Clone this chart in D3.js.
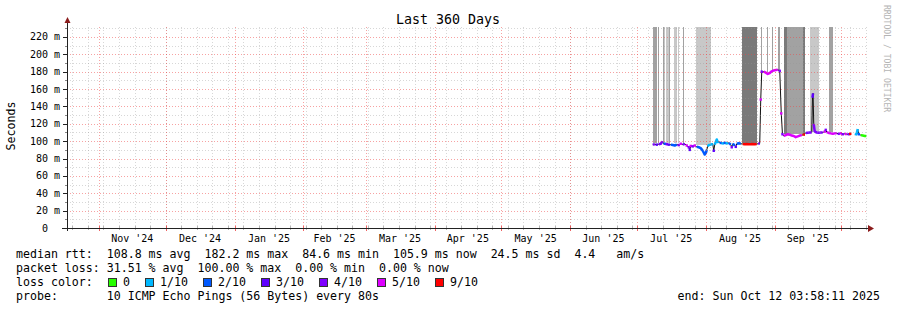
<!DOCTYPE html>
<html><head><meta charset="utf-8">
<script src="https://cdn.jsdelivr.net/npm/d3@7"></script>
<style>
body{margin:0;background:#fff}
svg{display:block}
text{font-family:"DejaVu Sans Mono","Liberation Mono",monospace;white-space:pre}
</style>
</head><body>
<svg id="c" width="897" height="310"></svg>
<script>
// ---------- data ----------
const chartTitle = "Last 360 Days";
const yAxisTitle = "Seconds";
const watermark = "RRDTOOL / TOBI OETIKER";
const endParts = [2025, 9, 12, 3, 58, 11];   // Sun Oct 12 03:58:11 2025
const spanDays = 360;
const yMax = 231.5;
const yMajorTicks = [0, 20, 40, 60, 80, 100, 120, 140, 160, 180, 200, 220];
const yMinorTicks = [10, 30, 50, 70, 90, 110, 130, 150, 170, 190, 210, 230];
const monthLabels = ["Nov '24", "Dec '24", "Jan '25", "Feb '25", "Mar '25", "Apr '25",
                     "May '25", "Jun '25", "Jul '25", "Aug '25", "Sep '25"];

// median RTT samples; time = days since 2025-07-01 00:00
const sampleDays = [7.2,8.1,9.0,9.9,10.8,11.25,11.7,12.6,13.5,14.4,15.3,16.2,17.1,18.0,18.9,19.8,20.7,21.6,22.5,23.4,23.85,24.3,25.2,26.1,27.0,27.9,28.8,29.7,30.6,31.05,31.5,31.95,32.4,33.3,34.2,34.65,35.1,36.0,36.45,36.9,37.8,38.7,39.6,40.5,41.4,42.3,42.75,43.2,44.1,44.55,45.0,45.9,46.8,47.7,48.6,49.5,50.4,51.3,52.2,53.1,54.0,54.68,55.35,55.8,56.25,57.15,58.05,58.95,59.85,60.75,61.65,62.55,63.45,64.35,65.03,65.57,66.15,67.05,67.95,68.85,69.75,70.65,71.55,72.45,73.35,74.25,75.15,76.05,76.95,77.85,78.75,79.07,79.34,79.65,80.1,81.0,81.9,82.8,83.7,84.6,85.05,85.5,86.4,87.3,88.2,89.1,90.0,90.9,91.8,92.7,93.6,94.5,95.4,96.08,96.75,97.65,98.33,99.0,99.45,99.9,100.8,101.7,102.6,103.28];
const medianMs = [96,96.5,96,96.5,97,99,98,97,96.5,96,96,95.5,95,96,95.5,97,96,97,95,93,90,94.5,94,95,93.5,93,92,89,84.6,86,90,94,95.5,96,97,89,96,102,99,99.5,98,97.5,98,97.5,98,96,93,97,95,93.5,97,97.5,97,96.8,96.5,96.8,96.5,96.5,96.8,96.5,96.8,97,97.5,148,180,180,179,177.5,178.5,180.5,181.5,182,182.2,181,132,108,106,107,108,107.5,106.5,106,104.6,105.5,106.5,107,107.5,109.5,109.8,110,110,150,155,120,111,110,109.8,110,110,111,113,110.5,109.5,109,108.5,109,109,108.5,109,108,108.5,108,108,108.5,null,null,107,109,114,108,107,106.5,106,105.9];
const lossLevel = [4,4,3,4,4,4,4,2,4,3,2,2,2,2,4,5,4,4,5,4,3,5,4,5,2,2,2,2,2,2,2,1,1,1,1,3,1,1,1,1,2,1,2,1,2,2,4,2,2,3,2,2,2,6,6,6,6,6,6,6,6,4,4,5,4,5,5,5,5,5,5,5,5,4,5,4,5,5,5,5,5,5,5,5,5,5,6,4,4,4,4,3,3,4,4,4,4,4,4,5,4,5,5,5,5,5,5,4,5,4,5,5,4,6,null,null,1,1,1,2,0,0,0,0];

const lossColors = ["#26ff00", "#00b8ff", "#0059ff", "#5e00ff", "#7e00ff", "#dd00ff", "#ff0000"];
const lossLabels = ["0", "1/10", "2/10", "3/10", "4/10", "5/10", "9/10"];

// smoke (ping spread) bands reaching off the top of the chart
const smokeStart = [7.2,9.45,11.7,12.3,13.05,14.5,16.65,18.45,21.0,26.55,47.5,55.8,58.4,60.75,63.75,66.15,67.7,74.8,77.85,86.5];
const smokeEnd   = [9.0,10.2,12.3,12.8,14.3,15.0,18.0,19.05,21.45,33.3,54.3,56.25,58.8,61.35,64.35,67.7,74.8,75.7,82.0,88.5];
const smokeShade = [1,1,1,0,0,1,0,0,1,0,2,1,1,1,1,2,1,2,0,1];
const smokeBase  = [98,98,98,98,98,98,98,98,98,96,98,180,180,182,182,108,108,108,111,111];
const smokeColors = ["#c8c8c8", "#a2a2a2", "#7a7a7a"];

const statLines = [
  "median rtt:  108.8 ms avg  182.2 ms max  84.6 ms min  105.9 ms now  24.5 ms sd  4.4   am/s",
  "packet loss: 31.51 % avg  100.00 % max  0.00 % min  0.00 % now",
  "loss color:",
  "probe:       10 ICMP Echo Pings (56 Bytes) every 80s"
];
const endLabel = "end: Sun Oct 12 03:58:11 2025";

// ---------- chart ----------
const svg = d3.select("#c");
const L = 66, R = 866, T = 27, B = 228;
const endTime = new Date(...endParts);
const startTime = d3.timeDay.offset(endTime, -spanDays);
const base = new Date(2025, 6, 1);
const toDate = d => new Date(base.getTime() + d * 86400000);

const x = d3.scaleTime().domain([startTime, endTime]).range([L, R]);
const y = d3.scaleLinear().domain([0, yMax]).range([B, T]);
const px = v => Math.round(v) + 0.5;

svg.append("rect").attr("width", 897).attr("height", 310).attr("fill", "#fff");

// smoke
const g = svg.append("g");
smokeStart.forEach((s, i) => {
  const x0 = x(toDate(s)), x1 = x(toDate(smokeEnd[i]));
  g.append("rect")
    .attr("x", x0).attr("width", Math.max(1, x1 - x0))
    .attr("y", T).attr("height", y(smokeBase[i]) - T)
    .attr("fill", smokeColors[smokeShade[i]])
    .attr("shape-rendering", "crispEdges");
});

// median (black thin line underneath)
const pts = sampleDays.map((d, i) => ({t: toDate(d), v: medianMs[i], l: lossLevel[i]}));
const line = d3.line().defined(p => p.v != null).x(p => x(p.t)).y(p => y(p.v));
svg.append("path").attr("d", line(pts)).attr("fill", "none")
  .attr("stroke", "#111").attr("stroke-width", 1);

// colored runs by loss level
let runs = [], cur = null;
pts.forEach(p => {
  if (p.v == null) { cur = null; return; }
  if (cur && cur.l === p.l) cur.pts.push(p);
  else { cur = {l: p.l, pts: [p]}; runs.push(cur); }
});
runs.forEach(r => {
  let d;
  if (r.pts.length === 1) {
    const cx = x(r.pts[0].t), cy = y(r.pts[0].v);
    d = `M${cx - 1.2},${cy}L${cx + 1.2},${cy}`;
  } else d = d3.line().x(p => x(p.t)).y(p => y(p.v))(r.pts);
  svg.append("path").attr("d", d).attr("fill", "none")
    .attr("stroke", lossColors[r.l]).attr("stroke-width", 2.5)
    .attr("stroke-linejoin", "round");
});

// grid (drawn on top, semi transparent, like rrdtool)
const grid = svg.append("g").attr("shape-rendering", "crispEdges");
const minorC = "rgba(150,150,150,0.38)", majorC = "rgba(240,70,70,0.5)";
yMinorTicks.forEach(v => {
  if (y(v) < T - 1) return;
  grid.append("line").attr("x1", L + 1).attr("x2", R).attr("y1", px(y(v))).attr("y2", px(y(v)))
    .attr("stroke", minorC).attr("stroke-dasharray", "1,2");
});
yMajorTicks.filter(v => v > 0).forEach(v => {
  grid.append("line").attr("x1", L + 1).attr("x2", R).attr("y1", px(y(v))).attr("y2", px(y(v)))
    .attr("stroke", majorC).attr("stroke-dasharray", "1,2");
});
const weeks = d3.timeSunday.range(startTime, endTime);
const months = d3.timeMonth.range(startTime, endTime);
weeks.forEach(w => {
  grid.append("line").attr("x1", px(x(w))).attr("x2", px(x(w))).attr("y1", T).attr("y2", B)
    .attr("stroke", minorC).attr("stroke-dasharray", "1,2");
  grid.append("line").attr("x1", px(x(w))).attr("x2", px(x(w))).attr("y1", B - 2).attr("y2", B + 2)
    .attr("stroke", "rgba(130,130,130,0.6)");
});
months.forEach(m => {
  grid.append("line").attr("x1", px(x(m))).attr("x2", px(x(m))).attr("y1", T).attr("y2", B)
    .attr("stroke", majorC).attr("stroke-dasharray", "1,2");
  grid.append("line").attr("x1", px(x(m))).attr("x2", px(x(m))).attr("y1", B - 2).attr("y2", B + 3)
    .attr("stroke", "rgba(235,60,60,0.8)");
});

// axes
const axC = "#222";
svg.append("line").attr("x1", L - 4).attr("x2", R + 3).attr("y1", B + 0.5).attr("y2", B + 0.5)
  .attr("stroke", axC).attr("shape-rendering", "crispEdges");
svg.append("line").attr("x1", L + 1.5).attr("x2", L + 1.5).attr("y1", B + 3).attr("y2", T - 5)
  .attr("stroke", axC).attr("shape-rendering", "crispEdges");
svg.append("path").attr("d", `M${R + 2},${B - 3}L${R + 8},${B + 0.5}L${R + 2},${B + 4}Z`).attr("fill", "#8b1c1c");
svg.append("path").attr("d", `M${L - 1.5},${T - 4}L${L + 1.5},${T - 10}L${L + 4.5},${T - 4}Z`).attr("fill", "#8b1c1c");

// y ticks + labels
yMajorTicks.forEach(v => {
  svg.append("line").attr("x1", L - 3).attr("x2", L + 1).attr("y1", px(y(v))).attr("y2", px(y(v)))
    .attr("stroke", axC).attr("shape-rendering", "crispEdges");
  svg.append("text").attr("x", v === 0 ? 48 : 60).attr("y", y(v) + 3.5)
    .attr("text-anchor", "end").attr("font-size", 10).attr("fill", "#000")
    .text(v === 0 ? "0" : v + " m");
});
yMinorTicks.forEach(v => {
  if (y(v) < T - 1) return;
  svg.append("line").attr("x1", L - 1).attr("x2", L + 1).attr("y1", px(y(v))).attr("y2", px(y(v)))
    .attr("stroke", "#888").attr("shape-rendering", "crispEdges");
});

// month labels (centred in each month)
months.forEach((m, i) => {
  if (i >= monthLabels.length) return;
  const mid = (x(m) + x(d3.timeMonth.offset(m, 1))) / 2;
  svg.append("text").attr("x", mid).attr("y", 241.5).attr("text-anchor", "middle")
    .attr("font-size", 10).attr("fill", "#000").text(monthLabels[i]);
});

// titles
svg.append("text").attr("x", 448).attr("y", 24).attr("text-anchor", "middle")
  .attr("font-size", 13.3).attr("fill", "#000").text(chartTitle);
svg.append("text").attr("transform", "translate(15,126) rotate(-90)").attr("text-anchor", "middle")
  .attr("font-size", 11.6).attr("fill", "#000").text(yAxisTitle);
svg.append("text").attr("transform", "translate(884,5) rotate(90)").attr("text-anchor", "start")
  .attr("font-size", 8.1).attr("fill", "#b4b4b4").text(watermark);

// stats legend
const rowY = [258, 272, 286, 300];
statLines.forEach((s, i) => {
  svg.append("text").attr("x", 16).attr("y", rowY[i]).attr("font-size", 11.6).attr("fill", "#000").text(s);
});
const boxX = [108, 145, 203, 261, 319, 377, 435];
lossLabels.forEach((lab, i) => {
  svg.append("rect").attr("x", boxX[i] + 0.5).attr("y", 278.5).attr("width", 8).attr("height", 8)
    .attr("fill", lossColors[i]).attr("stroke", "#333").attr("shape-rendering", "crispEdges");
  svg.append("text").attr("x", boxX[i] + 15).attr("y", rowY[2]).attr("font-size", 11.6)
    .attr("fill", "#000").text(lab);
});
svg.append("text").attr("x", 880).attr("y", rowY[3]).attr("text-anchor", "end")
  .attr("font-size", 11.6).attr("fill", "#000").text(endLabel);
</script>
</body></html>
